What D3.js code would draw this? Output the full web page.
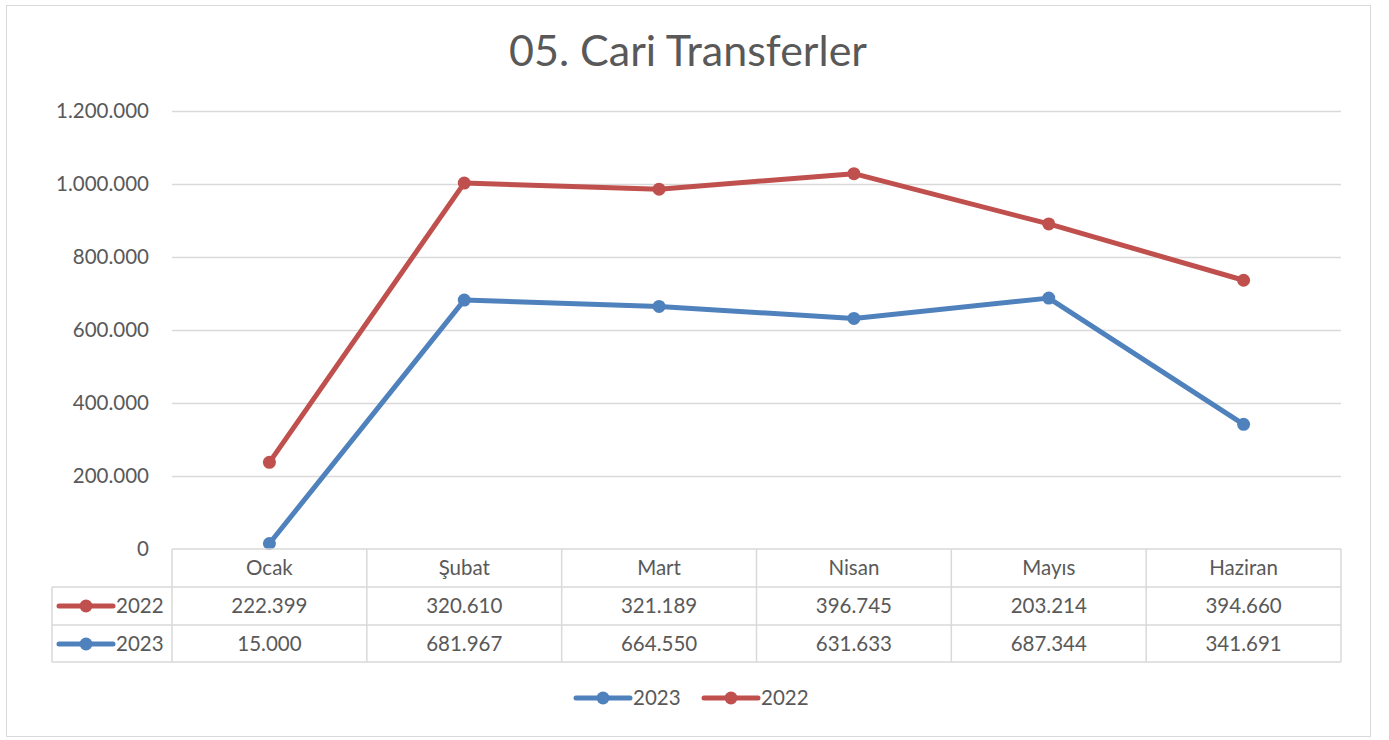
<!doctype html>
<html>
<head>
<style>
  body { margin: 0; background: #fff; }
  text { font-family: Lato, "Open Sans", sans-serif; fill: #595959; }
</style>
<script src="https://d3js.org/d3.v7.min.js"></script>
</head>
<body>
<svg width="1389" height="740"></svg>
<script>
var months = ["Ocak", "Şubat", "Mart", "Nisan", "Mayıs", "Haziran"];
var v2022 = [222399, 320610, 321189, 396745, 203214, 394660];
var v2023 = [15000, 681967, 664550, 631633, 687344, 341691];
var yTicks = [0, 200000, 400000, 600000, 800000, 1000000, 1200000];

var colors = { "2022": "#c0504d", "2023": "#4f81bd" };
var fmt = function(v) { return d3.format(",")(v).replace(/,/g, "."); };
var fs = "20.5px";

var svg = d3.select("svg");

svg.append("rect")
   .attr("x", 6.5).attr("y", 5.5).attr("width", 1364).attr("height", 731)
   .attr("fill", "none").attr("stroke", "#d9d9d9");

svg.append("text")
   .attr("x", 688).attr("y", 66)
   .attr("text-anchor", "middle")
   .attr("font-size", "43px")
   .text("05. Cari Transferler");

var plotLeft = 172, plotRight = 1341, plotTop = 111, plotBottom = 549;

var x = d3.scaleBand().domain(months).range([plotLeft, plotRight]);
var y = d3.scaleLinear().domain([0, 1200000]).range([plotBottom, plotTop]);

// gridlines
svg.append("g").selectAll("line")
   .data(yTicks.slice(1))
   .enter().append("line")
   .attr("x1", plotLeft).attr("x2", plotRight)
   .attr("y1", function(d) { return y(d) + 0.5; })
   .attr("y2", function(d) { return y(d) + 0.5; })
   .attr("stroke", "#d9d9d9").attr("stroke-width", 1.3);

svg.append("g").selectAll("text")
   .data(yTicks)
   .enter().append("text")
   .attr("x", 149)
   .attr("y", function(d) { return y(d) + 7; })
   .attr("text-anchor", "end")
   .attr("font-size", fs)
   .text(function(d) { return fmt(d); });

// stacked lines (2022 drawn on top of 2023)
var rows = months.map(function(m, i) { return { month: m, "2022": v2022[i], "2023": v2023[i] }; });
var stack = d3.stack().keys(["2023", "2022"])(rows);

var line = d3.line()
   .x(function(d) { return x(d.data.month) + x.bandwidth() / 2; })
   .y(function(d) { return y(d[1]); });

stack.forEach(function(s) {
    var g = svg.append("g");
    g.append("path")
     .datum(s)
     .attr("d", line)
     .attr("fill", "none")
     .attr("stroke", colors[s.key])
     .attr("stroke-width", 5)
     .attr("stroke-linejoin", "round")
     .attr("stroke-linecap", "round");
    g.selectAll("circle")
     .data(s)
     .enter().append("circle")
     .attr("cx", function(d) { return x(d.data.month) + x.bandwidth() / 2; })
     .attr("cy", function(d) { return y(d[1]); })
     .attr("r", 6.5)
     .attr("fill", colors[s.key]);
});

// data table
var rowY = [549, 587, 625, 662];
var tableLeft = 52;
var tg = svg.append("g").attr("stroke", "#d9d9d9").attr("stroke-width", 1.5);
tg.append("line").attr("x1", plotLeft).attr("x2", plotRight).attr("y1", rowY[0]).attr("y2", rowY[0]);
[1, 2, 3].forEach(function(i) {
    tg.append("line").attr("x1", tableLeft).attr("x2", plotRight).attr("y1", rowY[i]).attr("y2", rowY[i]);
});
tg.append("line").attr("x1", tableLeft).attr("x2", tableLeft).attr("y1", rowY[1]).attr("y2", rowY[3]);
months.forEach(function(m) {
    tg.append("line").attr("x1", x(m)).attr("x2", x(m)).attr("y1", rowY[0]).attr("y2", rowY[3]);
});
tg.append("line").attr("x1", plotRight).attr("x2", plotRight).attr("y1", rowY[0]).attr("y2", rowY[3]);

svg.append("g").selectAll("text")
   .data(months)
   .enter().append("text")
   .attr("x", function(d) { return x(d) + x.bandwidth() / 2; })
   .attr("y", 575)
   .attr("text-anchor", "middle")
   .attr("font-size", fs)
   .text(function(d) { return d; });

var tableRows = [
    { key: "2022", vals: v2022, y: 613 },
    { key: "2023", vals: v2023, y: 651 }
];

function legendSwatch(g, x0, cy, color) {
    g.append("line").attr("x1", x0).attr("x2", x0 + 54)
     .attr("y1", cy).attr("y2", cy)
     .attr("stroke", color).attr("stroke-width", 5).attr("stroke-linecap", "round");
    g.append("circle").attr("cx", x0 + 27).attr("cy", cy).attr("r", 6.5).attr("fill", color);
}

tableRows.forEach(function(r) {
    var g = svg.append("g");
    legendSwatch(g, 59, r.y - 7, colors[r.key]);
    g.append("text").attr("x", 116).attr("y", r.y)
     .attr("font-size", fs).text(r.key);
    g.selectAll("text.val")
     .data(r.vals)
     .enter().append("text")
     .attr("class", "val")
     .attr("x", function(d, i) { return x(months[i]) + x.bandwidth() / 2; })
     .attr("y", r.y)
     .attr("text-anchor", "middle")
     .attr("font-size", fs)
     .text(function(d) { return fmt(d); });
});

// legend
var lg = svg.append("g");
legendSwatch(lg, 576, 698, colors["2023"]);
lg.append("text").attr("x", 633).attr("y", 705).attr("font-size", fs).text("2023");
legendSwatch(lg, 704, 698, colors["2022"]);
lg.append("text").attr("x", 761).attr("y", 705).attr("font-size", fs).text("2022");
</script>
</body>
</html>
